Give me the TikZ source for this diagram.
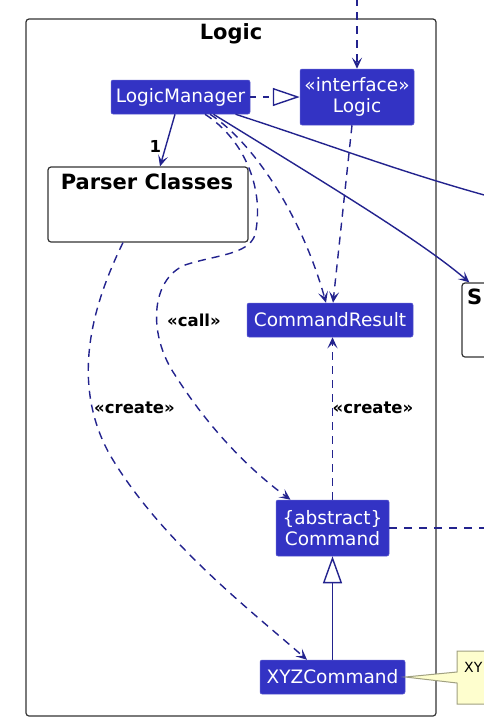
\documentclass[tikz,border=0pt]{standalone}
\usepackage{fontspec}
\setmainfont{DejaVu Sans}
\usetikzlibrary{arrows.meta,calc}
\definecolor{nodeblue}{HTML}{3333C4}
\definecolor{edgeblue}{HTML}{23238E}
\definecolor{notefill}{HTML}{FEFECE}
\definecolor{noteline}{HTML}{A0A080}
\definecolor{boxline}{HTML}{333333}
\begin{document}
\begin{tikzpicture}[x=1pt,y=-1pt,
  cls/.style={fill=nodeblue, draw=nodeblue!80!white, line width=0.5pt, rounded corners=2pt,
    text=white, font=\fontsize{18.5}{21.5}\selectfont, inner sep=0pt, align=center},
  pkg/.style={draw=boxline, line width=1.2pt, rounded corners=3pt, fill=white, inner sep=0pt},
  ttl/.style={font=\bfseries\fontsize{21}{25}\selectfont, inner sep=0pt},
  lbl/.style={font=\bfseries\fontsize{16.5}{19}\selectfont, inner sep=0pt},
  tip/.style={-{Stealth[length=11pt,width=10pt,inset=5pt]}},
  dep/.style={draw=edgeblue, line width=1.4pt, dash pattern=on 8pt off 6pt, tip},
  assoc/.style={draw=edgeblue, line width=1.4pt, tip},
  plain/.style={draw=edgeblue, line width=1.4pt},
  plaindash/.style={draw=edgeblue, line width=1.3pt, dash pattern=on 8pt off 7pt},
  realize/.style={draw=edgeblue, line width=1.4pt, dash pattern=on 6pt off 7pt,
    -{Triangle[open,length=27pt,width=18pt]}},
  extend/.style={draw=edgeblue, line width=1.4pt, -{Triangle[open,length=27pt,width=19pt]}},
  note/.style={fill=notefill, draw=noteline, line width=1pt}
]
\useasboundingbox (0,0) rectangle (483,724);

% package Logic
\node[pkg, minimum width=410pt, minimum height=697pt] (logicpkg) at (231,367.5) {};
\node[ttl] (logictitle) at (231,34) {Logic};

% Parser Classes package
\node[pkg, minimum width=200pt, minimum height=75pt] (parser) at (148,204.5) {};
\node[ttl] (parsertitle) at (147,182) {Parser Classes};

% Storage package (cut at the edge)
\node[pkg, minimum width=60pt, minimum height=74pt] (storage) at (492,320) {};
\node[ttl, anchor=west] (storagetitle) at (467,297) {S};

% classes
\node[cls, minimum width=139pt, minimum height=34pt] (lm) at (180.5,97) {LogicManager};
\node[cls, minimum width=114pt, minimum height=56pt] (logic) at (357,97) {«interface»\\Logic};
\node[cls, minimum width=166pt, minimum height=34pt] (cr) at (330,320) {CommandResult};
\node[cls, minimum width=113pt, minimum height=56pt] (cmd) at (332.5,528) {\{abstract\}\\Command};
\node[cls, minimum width=145pt, minimum height=34pt] (xyz) at (332.5,677) {XYZCommand};

% note (cut at the edge)
\draw[note] (xyz.east) -- (457,672) -- (457,651) -- (495,651) -- (495,704) -- (457,704) -- (457,683) -- cycle;
\node[anchor=west, font=\fontsize{14}{17}\selectfont, inner sep=0pt] (notetext) at (464,667) {XY};

% free ends
\coordinate (topin) at (357,-2);
\coordinate (modelend) at (495,198);
\coordinate (cmdout) at (495,528);

% connectors
\draw[dep] (topin) -- (logic.north);
\draw[realize] (lm.east) -- (logic.west);
\draw[assoc] ([xshift=-5.5pt]lm.south) -- ([xshift=12pt]parser.north)
  node[lbl, pos=0.62, left=4pt] (one) {1};
\draw[dep] ([xshift=24.5pt]lm.south) .. controls (245,140) and (265,190) .. (255,235)
  .. controls (248,255) and (215,255) .. (185,265)
  .. controls (150,280) and (148,335) .. (175,375)
  .. controls (210,430) and (250,470) .. ([xshift=-42pt]cmd.north);
\draw[dep] ([xshift=29.5pt]lm.south) .. controls (250,140) and (300,210) .. ([xshift=-4pt]cr.north);
\draw[dep] ([xshift=-5pt]logic.south) -- ([xshift=3pt]cr.north);
\draw[assoc] ([xshift=33pt]lm.south) .. controls (320,180) and (420,240) .. ([xshift=8pt]storage.north west);
\draw[plain] ([xshift=55pt]lm.south) .. controls (330,145) and (400,172) .. (modelend);
\draw[dep] ([xshift=-25pt]parser.south) .. controls (95,300) and (68,380) .. (110,455)
  .. controls (160,540) and (250,610) .. ([xshift=-25.5pt]xyz.north);
\draw[dep] (cmd.north) -- (cmd.north |- cr.south);
\draw[plaindash] (cmd.east) -- (cmdout);
\draw[extend] (xyz.north) -- (cmd.south);

% labels
\node[lbl] (calllbl) at (194,320) {«call»};
\node[lbl] (createleft) at (134.5,408) {«create»};
\node[lbl] (createright) at (373,408) {«create»};
\end{tikzpicture}
\end{document}
